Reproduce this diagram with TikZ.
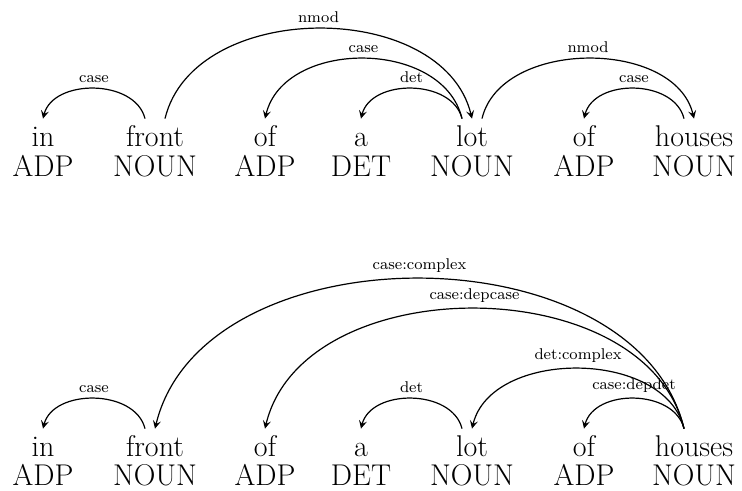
\documentclass[tikz,border=0pt]{standalone}
\usepackage{fontspec}
\usetikzlibrary{arrows.meta}

\tikzset{
  word/.style = {anchor=base, inner sep=0pt, text height=14pt, font=\fontsize{15}{18}\selectfont},
  tag/.style  = {anchor=base, inner sep=0pt, font=\fontsize{15}{18}\selectfont},
  dep/.style  = {->, line width=.6pt},
  lab/.style  = {midway, above, inner sep=2.6pt, font=\fontsize{7.8}{9}\selectfont},
}

\begin{document}
\begin{tikzpicture}[x=.5pt, y=.5pt, >={Stealth[length=4pt, width=4pt, inset=1.6pt]}]
    \useasboundingbox (0,0) rectangle (742,491);
    % upper tree
    \node[word] (w1) at (43,344) {in};
    \node[word] (w2) at (155,344) {front};
    \node[word] (w3) at (265,344) {of};
    \node[word] (w4) at (361,344) {a};
    \node[word] (w5) at (472,344) {lot};
    \node[word] (w6) at (584,344) {of};
    \node[word] (w7) at (694,344) {houses};
    \node[tag] (p1) at (43,314) {ADP};
    \node[tag] (p2) at (155,314) {NOUN};
    \node[tag] (p3) at (265,314) {ADP};
    \node[tag] (p4) at (361,314) {DET};
    \node[tag] (p5) at (472,314) {NOUN};
    \node[tag] (p6) at (584,314) {ADP};
    \node[tag] (p7) at (694,314) {NOUN};
    \draw[dep] ([xshift=-5pt]w2.north) .. controls +(-10,40) and +(10,40) .. (w1.north) node[lab] {case};
    \draw[dep] ([xshift=5pt]w2.north) .. controls +(29,120) and +(-29,120) .. (w5.north) node[lab] {nmod};
    \draw[dep] ([xshift=-5pt]w5.north) .. controls +(-19,80) and +(19,80) .. (w3.north) node[lab] {case};
    \draw[dep] ([xshift=-5pt]w5.north) .. controls +(-10,40) and +(10,40) .. (w4.north) node[lab] {det};
    \draw[dep] ([xshift=5pt]w5.north) .. controls +(19,80) and +(-19,80) .. (w7.north) node[lab] {nmod};
    \draw[dep] ([xshift=-5pt]w7.north) .. controls +(-10,40) and +(10,40) .. (w6.north) node[lab] {case};
    % lower tree
    \node[word] (v1) at (43,34) {in};
    \node[word] (v2) at (155,34) {front};
    \node[word] (v3) at (265,34) {of};
    \node[word] (v4) at (361,34) {a};
    \node[word] (v5) at (472,34) {lot};
    \node[word] (v6) at (584,34) {of};
    \node[word] (v7) at (694,34) {houses};
    \node[tag] (q1) at (43,5) {ADP};
    \node[tag] (q2) at (155,5) {NOUN};
    \node[tag] (q3) at (265,5) {ADP};
    \node[tag] (q4) at (361,5) {DET};
    \node[tag] (q5) at (472,5) {NOUN};
    \node[tag] (q6) at (584,5) {ADP};
    \node[tag] (q7) at (694,5) {NOUN};
    \draw[dep] ([xshift=-5pt]v2.north) .. controls +(-10,40) and +(10,40) .. (v1.north) node[lab] {case};
    \draw[dep] ([xshift=-5pt]v5.north) .. controls +(-10,40) and +(10,40) .. (v4.north) node[lab] {det};
    \draw[dep] ([xshift=-5pt]v7.north) .. controls +(-48,200) and +(48,200) .. (v2.north) node[lab] {case:complex};
    \draw[dep] ([xshift=-5pt]v7.north) .. controls +(-38,160) and +(38,160) .. (v3.north) node[lab] {case:depcase};
    \draw[dep] ([xshift=-5pt]v7.north) .. controls +(-19,80) and +(19,80) .. (v5.north) node[lab] {det:complex};
    \draw[dep] ([xshift=-5pt]v7.north) .. controls +(-10,40) and +(10,40) .. (v6.north) node[lab] {case:depdet};
\end{tikzpicture}
\end{document}
